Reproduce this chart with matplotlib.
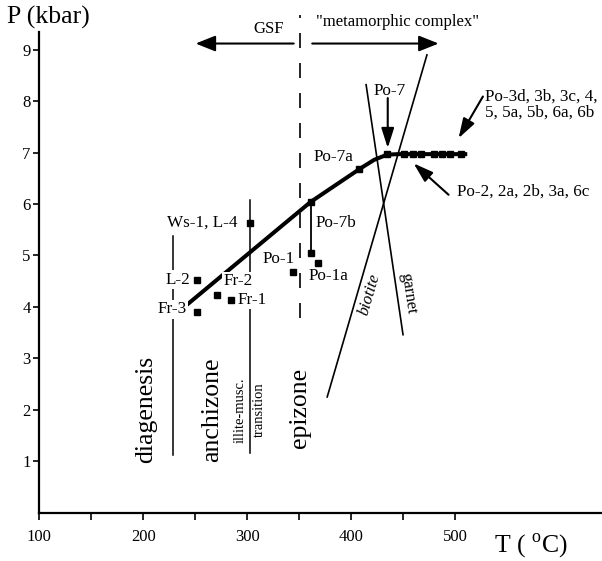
import matplotlib
matplotlib.use("Agg")
import matplotlib.pyplot as plt

plt.rcParams['font.family'] = ['Liberation Serif', 'DejaVu Serif']
plt.rcParams['mathtext.fontset'] = 'custom'
plt.rcParams['mathtext.rm'] = 'Liberation Serif'

# sample points (T in deg C, P in kbar)
sample_names = ["Ws-1, L-4", "L-2", "Fr-3", "Fr-2", "Fr-1", "Po-1", "Po-1a",
                "Po-7b", "Po-7b", "Po-7a", "Po-7"]
sample_T = [302.5, 252.0, 252.0, 271.2, 284.6, 344.1, 368.1, 360.8, 360.8, 407.8, 434.4]
sample_P = [5.64, 4.53, 3.91, 4.24, 4.13, 4.68, 4.86, 5.05, 6.04, 6.68, 6.97]

# Po-2 ... Po-6c group on the plateau
group_T = [451, 459, 467, 479, 487, 495, 505]
group_P = [6.97, 6.97, 6.97, 6.97, 6.97, 6.97, 6.97]

# thick P-T path
path_T = [243, 360.8, 407.8, 422, 434.4, 445, 509.5]
path_P = [4.06, 6.04, 6.68, 6.86, 6.96, 6.97, 6.97]

# mineral isograds
biotite_T = [376.8, 472.7]
biotite_P = [2.25, 8.90]
garnet_T = [414.2, 449.7]
garnet_P = [8.32, 3.46]

# zone boundaries
diag_T, diag_P = [229.0, 229.0], [1.13, 5.37]
illite_T, illite_P = [302.2, 302.2], [1.16, 6.08]
gsf_T, gsf_P = [350.2, 350.2], [3.79, 9.67]

xticks_major = [100, 200, 300, 400, 500]
xticks_minor = [150, 250, 350, 450]
yticks = [1, 2, 3, 4, 5, 6, 7, 8, 9]

fig = plt.figure(figsize=(6.02, 5.61), dpi=100)
ax = fig.add_axes([39.3/602, 1-512.7/561, 1-39.3/602, (512.7-31.7)/561])
ax.set_xlim(100, 641)
ax.set_ylim(0, 9.35)

for s in ['top', 'right']:
    ax.spines[s].set_visible(False)
for s in ['left', 'bottom']:
    ax.spines[s].set_linewidth(1.6)

ax.set_xticks(xticks_major)
ax.set_xticks(xticks_minor, minor=True)
ax.set_yticks(yticks)
ax.tick_params(axis='x', which='both', direction='out', length=5, width=1.2,
               pad=7, labelsize=12)
ax.tick_params(axis='y', direction='out', length=4.3, width=1.2, pad=2, labelsize=12)

# lines
ax.plot(diag_T, diag_P, color='k', lw=1.1, zorder=1)
ax.plot(illite_T, illite_P, color='k', lw=1.1, zorder=1)
ax.plot(gsf_T, gsf_P, color='k', lw=1.2, linestyle=(0, (9, 9)), zorder=1, clip_on=False)
ax.plot(biotite_T, biotite_P, color='k', lw=1.2, zorder=1)
ax.plot(garnet_T, garnet_P, color='k', lw=1.2, zorder=1)
ax.plot([sample_T[7], sample_T[8]], [sample_P[7], sample_P[8]], color='k', lw=1.3, zorder=1)
ax.plot(path_T, path_P, color='k', lw=2.9, zorder=2)

ax.plot(sample_T, sample_P, 's', color='k', ms=4.5, zorder=5)
ax.plot(group_T, group_P, 's', color='k', ms=4.5, zorder=5)

box = dict(facecolor='white', edgecolor='none', pad=1)
fs = 12.3
ax.text(291, 5.63, "Ws-1, L-4", ha='right', va='center', fontsize=fs)
ax.text(244.9, 4.53, "L-2", ha='right', va='center', fontsize=fs, bbox=box, zorder=3)
ax.text(241.7, 3.95, "Fr-3", ha='right', va='center', fontsize=fs, bbox=box, zorder=3)
ax.text(277, 4.50, "Fr-2", ha='left', va='center', fontsize=fs, bbox=box, zorder=3)
ax.text(291, 4.14, "Fr-1", ha='left', va='center', fontsize=fs, bbox=box, zorder=3)
ax.text(345.7, 4.93, "Po-1", ha='right', va='center', fontsize=fs)
ax.text(358.8, 4.61, "Po-1a", ha='left', va='center', fontsize=fs)
ax.text(365.5, 5.63, "Po-7b", ha='left', va='center', fontsize=fs)
ax.text(363.9, 6.92, "Po-7a", ha='left', va='center', fontsize=fs)
ax.text(436.6, 8.20, "Po-7", ha='center', va='center', fontsize=fs)
ax.text(528.7, 8.09, "Po-3d, 3b, 3c, 4,", ha='left', va='center', fontsize=fs)
ax.text(528.7, 7.77, "5, 5a, 5b, 6a, 6b", ha='left', va='center', fontsize=fs)
ax.text(501.5, 6.24, "Po-2, 2a, 2b, 3a, 6c", ha='left', va='center', fontsize=fs)

ax.text(320.4, 9.32, "GSF", ha='center', va='baseline', fontsize=12)
ax.text(444.7, 9.46, '"metamorphic complex"', ha='center', va='baseline', fontsize=12)

# zone names
ax.text(202.4, 2.0, "diagenesis", rotation=90, ha='center', va='center', fontsize=18.5)
ax.text(266.4, 2.0, "anchizone", rotation=90, ha='center', va='center', fontsize=18.5)
ax.text(293.6, 2.0, "illite-musc.", rotation=90, ha='center', va='center', fontsize=10.5)
ax.text(311.8, 2.0, "transition", rotation=90, ha='center', va='center', fontsize=10.5)
ax.text(350.2, 2.04, "epizone", rotation=90, ha='center', va='center', fontsize=18.5)
ax.text(417.4, 4.24, "biotite", rotation=73.6, ha='center', va='center',
        fontsize=12, fontstyle='italic')
ax.text(454.3, 4.27, "garnet", rotation=-81.7, ha='center', va='center', fontsize=12)

# arrows
big = dict(arrowstyle='-|>,head_length=0.5,head_width=0.2', color='k', lw=1.5,
           mutation_scale=24, shrinkA=0, shrinkB=0)
small = dict(arrowstyle='-|>,head_length=0.5,head_width=0.16', color='k', lw=1.5,
             mutation_scale=24, shrinkA=0, shrinkB=0)
ax.annotate('', xy=(250.3, 9.12), xytext=(344.6, 9.12), arrowprops=big)
ax.annotate('', xy=(483.9, 9.12), xytext=(362.4, 9.12), arrowprops=big)
ax.annotate('', xy=(435, 7.09), xytext=(435, 8.06), arrowprops=small)
ax.annotate('', xy=(503.1, 7.28), xytext=(526.5, 8.09), arrowprops=small)
ax.annotate('', xy=(459.9, 6.79), xytext=(493.5, 6.18), arrowprops=small)

fig.text(48.5/602, 1-17/561, "P (kbar)", ha='center', va='center', fontsize=18.5)
fig.text(531/602, 1-546/561, "T ( $^{\\mathrm{o}}$C)", ha='center', va='center', fontsize=18.5)

fig.savefig("out.png", dpi=100)
